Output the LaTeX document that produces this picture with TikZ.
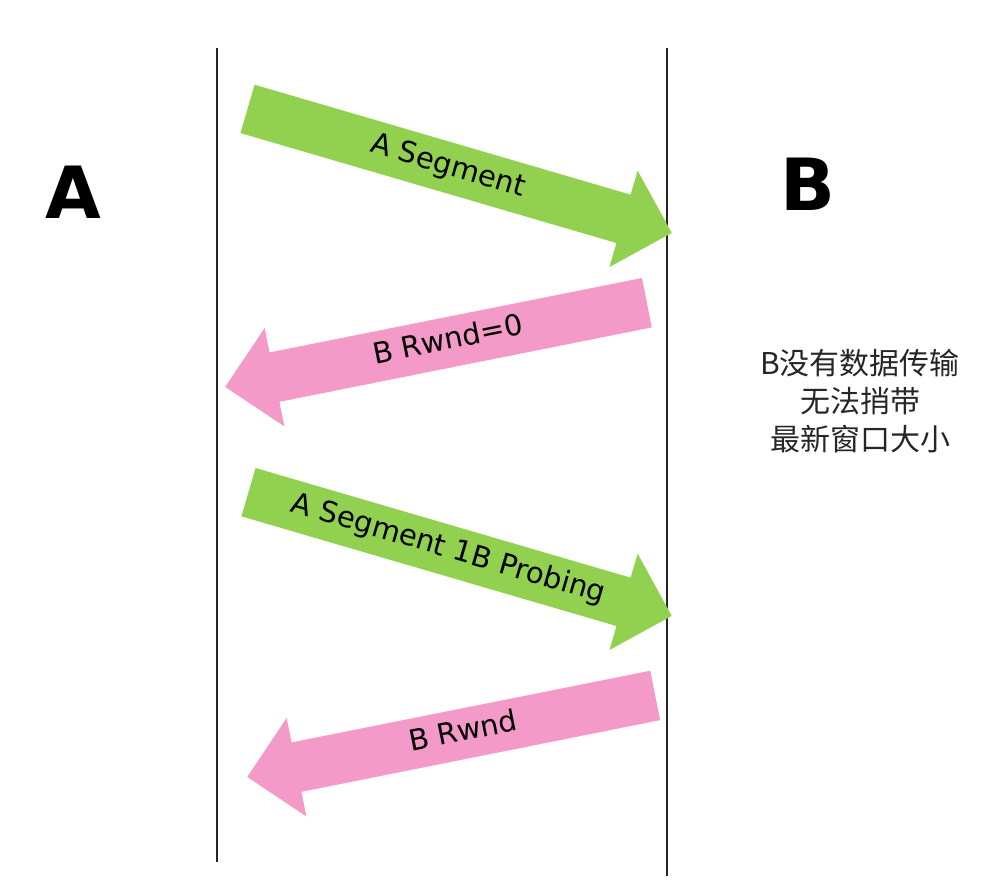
\documentclass[tikz,border=0pt]{standalone}
\usepackage{fontspec}
\setmainfont{DejaVu Sans}
\newfontfamily\cjkfont{Noto Sans CJK SC}
\usetikzlibrary{shapes.arrows, positioning}
\definecolor{segGreen}{HTML}{92D050}
\definecolor{ackPink}{HTML}{F49AC8}

\begin{document}
\begin{tikzpicture}[
    x=1pt, y=-1pt,
    fat/.style={single arrow, draw=none, single arrow head extend=25pt, single arrow tip angle=90, inner xsep=0pt, inner ysep=0pt, text height=32pt, text depth=18pt, font=\fontsize{29}{29}\selectfont, anchor=tip},
    seg/.style={fat, fill=segGreen, rotate=-16.3},
    ack/.style={fat, fill=ackPink, shape border rotate=180, rotate=11.3},
    host/.style={font=\bfseries\fontsize{72}{72}\selectfont},
    lifeline/.style={draw=black!85, line width=1.3pt},
    note/.style={align=center, font=\cjkfont\fontsize{30}{38}\selectfont, text=black!85}
]
\useasboundingbox (0,0) rectangle (986,890);

% Hosts
\node (hostA) [host] at (73,192) {A};
\node (hostB) [host] at (808,184) {B};

% Lifelines
\coordinate (topA) at (217,48);
\coordinate (botA) at (217,862);
\coordinate (topB) at (667,48);
\coordinate (botB) at (667,876);
\draw [lifeline] (topA) -- (botA);
\draw [lifeline] (topB) -- (botB);

% Segments
\node (seg1) [seg, minimum height=442] at (672,233) {A Segment};
\node (rwnd0) [ack, minimum height=430] at (225,387) {B Rwnd=0};
\node (probe) [seg, minimum height=441] at (672,616) {A Segment 1B Probing};
\node (rwnd) [ack, minimum height=416] at (247,777) {B Rwnd};

% Note
\node (note) [note] at (860,401) {B没有数据传输\\无法捎带\\最新窗口大小};

\end{tikzpicture}
\end{document}
